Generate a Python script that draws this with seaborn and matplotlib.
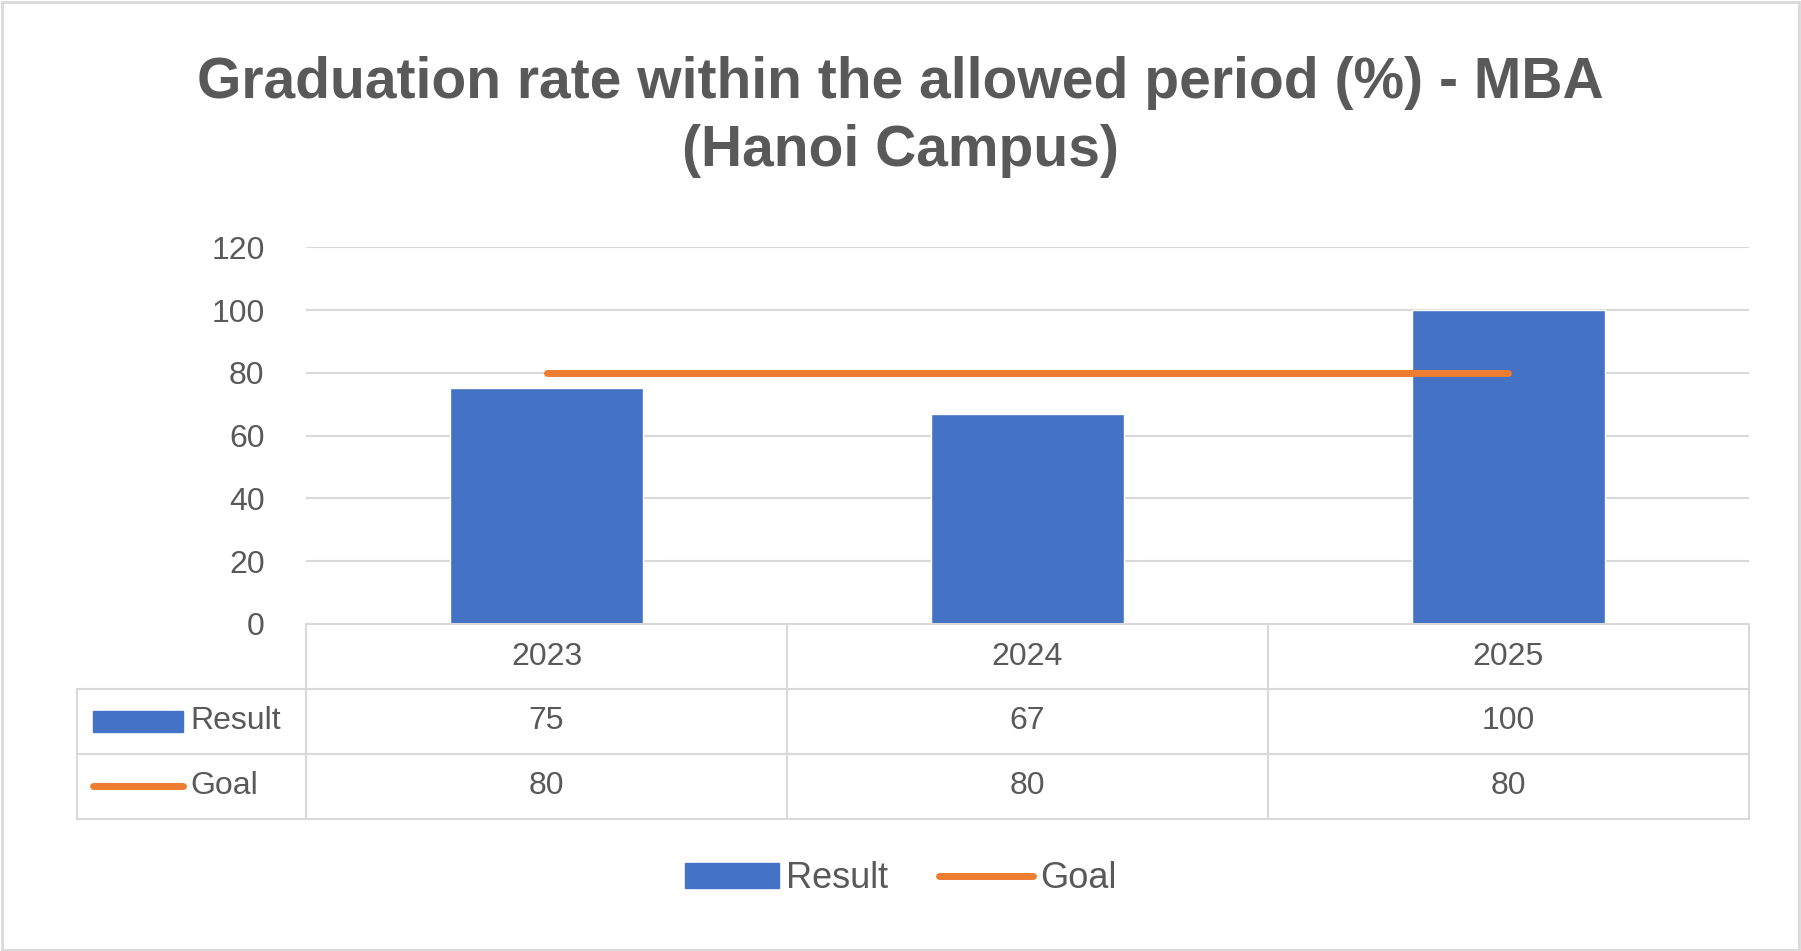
import matplotlib
matplotlib.use("Agg")
import matplotlib.pyplot as plt
import seaborn as sns
import pandas as pd
from matplotlib.lines import Line2D
from matplotlib.patches import Patch, Rectangle

years = ["2023", "2024", "2025"]
result = [75, 67, 100]
goal = [80, 80, 80]

BLUE = "#4472c4"
ORANGE = "#ed7d31"
GRID = "#d9d9d9"
TXT = "#595959"

sns.set_style("white")
plt.rcParams["font.family"] = ["Liberation Sans", "DejaVu Sans"]

df = pd.DataFrame({"year": years, "Result": result, "Goal": goal})

fig = plt.figure(figsize=(18.01, 9.51), dpi=100)
fig.patches.append(Rectangle((0.001, 0.001), 0.998, 0.997, transform=fig.transFigure,
                             fill=False, edgecolor=GRID, lw=2))
ax = fig.add_axes([0.170, 0.344, 0.801, 0.396])
sns.barplot(data=df, x="year", y="Result", color=BLUE, width=0.4, saturation=1, ax=ax)
ax.plot(range(len(years)), goal, color=ORANGE, lw=5, solid_capstyle="round")
ax.set_xlim(-0.5, len(years) - 0.5)
ax.set_ylim(0, 120)
ax.set_yticks(range(0, 121, 20))
ax.yaxis.grid(True, color=GRID, lw=1.5)
ax.set_axisbelow(True)
for s in ax.spines.values():
    s.set_visible(False)
ax.set_xticks([])
ax.set_xlabel("")
ax.set_ylabel("")
ax.tick_params(axis="y", labelsize=23, labelcolor=TXT, length=0, pad=30)

# data table below the axes
tr = ax.transAxes
rows = [0, -0.1738, -0.3445, -0.518]
left = -0.1586
kw = dict(color=GRID, lw=1.5, transform=tr, clip_on=False)
ax.plot([0, 1], [rows[0]] * 2, **kw)
for y in rows[1:]:
    ax.plot([left, 1], [y, y], **kw)
for x in [0, 1 / 3, 2 / 3, 1]:
    ax.plot([x, x], [rows[0], rows[3]], **kw)
ax.plot([left, left], [rows[1], rows[3]], **kw)
n = len(years)
for i, yr in enumerate(years):
    cx = (i + 0.5) / n
    for r, val in enumerate([yr, result[i], goal[i]]):
        ax.text(cx, (rows[r] + rows[r + 1]) / 2, str(val), transform=tr, ha="center",
                va="center", fontsize=23, color=TXT)
for r, (name, col, is_bar) in enumerate([("Result", BLUE, True), ("Goal", ORANGE, False)]):
    ym = (rows[r + 1] + rows[r + 2]) / 2
    if is_bar:
        ax.add_patch(Rectangle((-0.1475, ym - 0.028), 0.062, 0.056, transform=tr,
                               color=col, clip_on=False))
    else:
        ax.plot([-0.1475, -0.0855], [ym, ym], color=col, lw=5, solid_capstyle="round",
                transform=tr, clip_on=False)
    ax.text(-0.08, ym, name, transform=tr, ha="left", va="center", fontsize=23, color=TXT)

handles = [Patch(color=BLUE, label="Result"),
           Line2D([], [], color=ORANGE, lw=5, solid_capstyle="round", label="Goal")]
fig.legend(handles=handles, loc="center", bbox_to_anchor=(0.5, 0.076), ncol=2, frameon=False,
           fontsize=26, labelcolor=TXT, handlelength=2.6, handletextpad=0.2, columnspacing=1.4)

fig.text(0.5, 0.877, "Graduation rate within the allowed period (%) - MBA\n(Hanoi Campus)",
         ha="center", va="center", fontsize=41, fontweight="bold", color=TXT, linespacing=1.35)

fig.savefig("out.png", dpi=100, facecolor="white")
